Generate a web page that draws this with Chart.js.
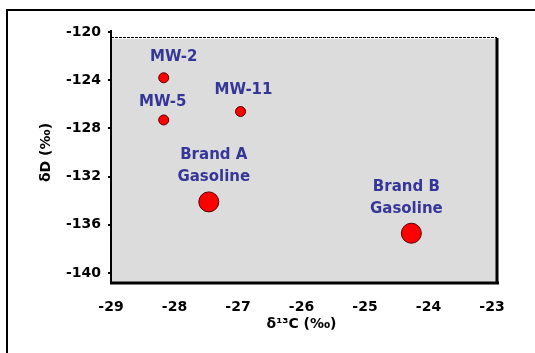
<!DOCTYPE html>
<html>
<head>
<meta charset="utf-8">
<script src="https://cdn.jsdelivr.net/npm/chart.js@4.4.1/dist/chart.umd.min.js"></script>
<style>
  html, body { margin: 0; padding: 0; background: #ffffff; }
  #wrap { position: relative; width: 535px; height: 353px; overflow: hidden; }
  #frame { position: absolute; left: 6px; top: 9px; width: 600px; height: 400px;
           border-left: 2px solid #000; border-top: 2px solid #000; box-sizing: border-box; }
  canvas { position: absolute; left: 0; top: 0; }
</style>
</head>
<body>
<div id="wrap">
  <div id="frame"></div>
  <canvas id="c" width="535" height="353"></canvas>
</div>
<script>
// ---- data ----
const sampleNames = ["MW-2", "MW-5", "MW-11", "Brand A\nGasoline", "Brand B\nGasoline"];
const d13C = [-28.17, -28.17, -26.96, -27.46, -24.27];
const dD = [-123.8, -127.3, -126.6, -134.1, -136.7];
const xTicks = [-29, -28, -27, -26, -25, -24, -23];
const yTicks = [-120, -124, -128, -132, -136, -140];
const xTitle = "δ¹³C (‰)";
const yTitle = "δD (‰)";

const points = d13C.map((x, i) => ({ x: x, y: dD[i] }));

const framePlugin = {
  id: 'frame',
  beforeDraw(chart) {
    const { ctx, chartArea: a } = chart;
    ctx.save();
    ctx.fillStyle = '#dcdcdc';
    ctx.fillRect(a.left + 1, a.top + 7, a.right - a.left + 5, a.bottom - a.top + 3);
    ctx.restore();
  },
  beforeDatasetsDraw(chart) {
    const { ctx, chartArea: a } = chart;
    ctx.save();
    ctx.strokeStyle = '#000';
    ctx.lineWidth = 2;
    ctx.beginPath();
    ctx.moveTo(a.left, a.top - 2);
    ctx.lineTo(a.left, a.bottom + 11);
    ctx.stroke();
    ctx.lineWidth = 3;
    ctx.beginPath();
    ctx.moveTo(a.left - 1, a.bottom + 10);
    ctx.lineTo(a.right + 7, a.bottom + 10);
    ctx.stroke();
    ctx.beginPath();
    ctx.moveTo(a.right + 5, a.top + 6);
    ctx.lineTo(a.right + 5, a.bottom + 10);
    ctx.stroke();
    ctx.lineWidth = 1;
    ctx.setLineDash([3, 1]);
    ctx.beginPath();
    ctx.moveTo(a.left, a.top + 5.5);
    ctx.lineTo(a.right + 5, a.top + 5.5);
    ctx.stroke();
    ctx.restore();
  },
  afterDatasetsDraw(chart) {
    const { ctx } = chart;
    const meta = chart.getDatasetMeta(0);
    const offs = [[10, -21], [-1, -18], [3, -21], [5, -47], [-5, -46]];
    ctx.save();
    ctx.fillStyle = '#363699';
    ctx.font = 'bold 15px "DejaVu Sans"';
    ctx.textAlign = 'center';
    ctx.textBaseline = 'middle';
    meta.data.forEach((el, i) => {
      const lines = sampleNames[i].split('\n');
      lines.forEach((ln, j) => {
        ctx.fillText(ln, el.x + offs[i][0], el.y + offs[i][1] + j * 22);
      });
    });
    ctx.restore();
  }
};

new Chart(document.getElementById('c'), {
  type: 'scatter',
  data: {
    datasets: [{
      data: points,
      backgroundColor: '#ff0000',
      borderColor: '#550000',
      borderWidth: 1,
      pointRadius: [5, 5, 5, 10, 10],
      pointHoverRadius: [5, 5, 5, 10, 10]
    }]
  },
  options: {
    responsive: false,
    animation: false,
    events: [],
    layout: { padding: { left: 0, top: 32, right: 43, bottom: 0 } },
    plugins: { legend: { display: false }, tooltip: { enabled: false } },
    scales: {
      x: {
        type: 'linear',
        min: -29, max: -23,
        afterBuildTicks: s => { s.ticks = xTicks.map(v => ({ value: v })); },
        afterFit: s => { s.height = 80; },
        grid: { display: false },
        border: { display: false },
        ticks: { color: '#000', font: { family: 'DejaVu Sans', size: 14, weight: 'bold' }, padding: 18, maxRotation: 0, autoSkip: false },
        title: { display: true, text: xTitle, color: '#000', font: { family: 'DejaVu Sans', size: 14, weight: 'bold' }, padding: { top: 0, bottom: 20 } }
      },
      y: {
        type: 'linear',
        min: -140, max: -120,
        afterBuildTicks: s => { s.ticks = yTicks.map(v => ({ value: v })); },
        afterFit: s => { s.width = 111; },
        grid: { display: true, drawOnChartArea: false, color: '#000', lineWidth: 2, tickLength: 3 },
        border: { display: false },
        ticks: { color: '#000', font: { family: 'DejaVu Sans', size: 14, weight: 'bold' }, padding: 7, autoSkip: false },
        title: { display: true, text: yTitle, color: '#000', font: { family: 'DejaVu Sans', size: 14, weight: 'bold' }, padding: { top: 38, bottom: 0 } }
      }
    }
  },
  plugins: [framePlugin]
});
</script>
</body>
</html>
